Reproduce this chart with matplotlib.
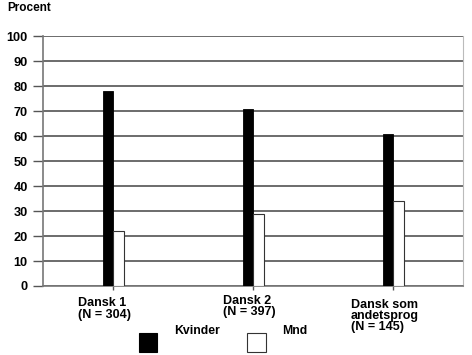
import matplotlib.pyplot as plt
from matplotlib.patches import Rectangle

plt.rcParams['font.family'] = ['Liberation Sans', 'DejaVu Sans']
plt.rcParams['font.weight'] = 'bold'

categories = ["Dansk 1\n(N = 304)", "Dansk 2\n(N = 397)", "Dansk som\nandetsprog\n(N = 145)"]
kvinder = [78, 71, 61]
mnd = [22, 29, 34]
yticks = [0, 10, 20, 30, 40, 50, 60, 70, 80, 90, 100]

fig = plt.figure(figsize=(4.72, 3.55), dpi=100)
ax = fig.add_axes([43 / 472, 1 - 286 / 355, 420 / 472, 250 / 355])

x = list(range(len(categories)))
w = 0.075
ax.bar([i - w / 2 for i in x], kvinder, width=w, color="black", edgecolor="black", linewidth=0.6, zorder=3)
ax.bar([i + w / 2 for i in x], mnd, width=w, color="white", edgecolor="#333333", linewidth=0.8, zorder=3)

ax.set_xlim(-0.5, 2.5)
ax.set_ylim(0, 100)
ax.set_yticks(yticks)
ax.yaxis.grid(True, color="#444444", linewidth=1.1, zorder=0)
ax.set_axisbelow(True)
ax.tick_params(axis="y", length=7, width=1, color="#555555", pad=4, labelsize=9.2)
ax.tick_params(axis="x", length=3, width=1, color="#555555", pad=8)

ax.set_xticks(x)
ax.set_xticklabels([])
offsets = [-0.064, -0.027, -0.059]
tops = [-4.6, -3.6, -5.0]
for i, lab in enumerate(categories):
    ax.text(i + offsets[i], tops[i], lab, ha="center", va="top", fontsize=9,
            linespacing=0.92, multialignment="left", fontweight="bold")

for s in ["left", "bottom"]:
    ax.spines[s].set_color("#777777")
    ax.spines[s].set_linewidth(1.2)
ax.spines["right"].set_color("#bbbbbb")
ax.spines["top"].set_visible(False)

fig.text(7 / 472, 1 - 8 / 355, "Procent", fontsize=8.5, fontweight="bold", va="center", ha="left")

# legend
fig.patches.append(Rectangle((139 / 472, 1 - 352 / 355), 18 / 472, 19 / 355,
                             transform=fig.transFigure, facecolor="black", edgecolor="black", linewidth=0.8))
fig.text(174 / 472, 1 - 331 / 355, "Kvinder", fontsize=8.8, fontweight="bold", va="center", ha="left")
fig.patches.append(Rectangle((247 / 472, 1 - 352 / 355), 19 / 472, 19 / 355,
                             transform=fig.transFigure, facecolor="white", edgecolor="#333333", linewidth=0.8))
fig.text(282 / 472, 1 - 331 / 355, "Mnd", fontsize=8.8, fontweight="bold", va="center", ha="left")

plt.savefig("out.png", dpi=100)
